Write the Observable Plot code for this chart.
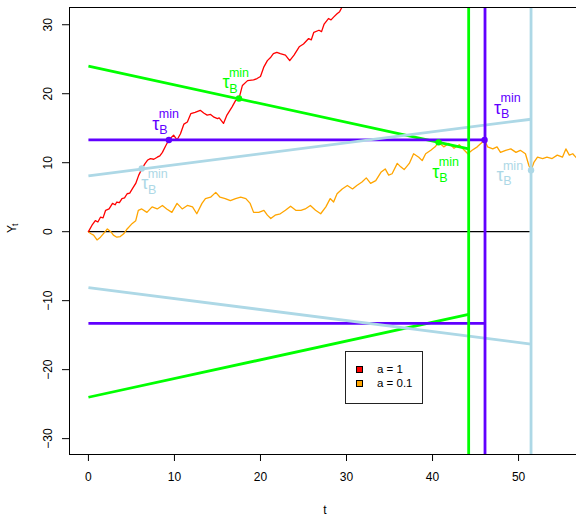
<!DOCTYPE html>
<html><head><meta charset="utf-8">
<script src="https://cdn.jsdelivr.net/npm/d3@7"></script>
<script src="https://cdn.jsdelivr.net/npm/@observablehq/plot@0.6"></script>
<style>
html,body{margin:0;padding:0;background:#fff;overflow:hidden;width:576px;height:521px;}
#wrap{position:relative;width:576px;height:521px;overflow:hidden;}
#wrap svg{max-width:none !important;width:590px !important;height:521px !important;display:block;}
#legend{position:absolute;left:345px;top:351px;width:76px;height:51px;border:1px solid #222;background:#fff;font:11.5px "Liberation Sans",Arial,sans-serif;}
#legend .sw{position:absolute;width:5px;height:5px;border:1px solid #000;}
#legend .lb{position:absolute;line-height:11px;height:11px;white-space:nowrap;color:#000;}
</style></head>
<body><div id="wrap"></div>
<script>
// ---- data ----
const redT = [0,0.4,0.8,1.1,1.4,1.7,2.0,2.4,2.8,3.1,3.3,3.6,3.9,4.2,4.5,4.8,5.1,5.5,5.85,6.2,6.6,6.9,7.2,7.6,8.0,8.3,8.6,9.0,9.35,9.9,10.3,10.7,11.1,11.5,11.9,12.4,13.0,13.4,13.8,14.2,14.6,15.0,15.2,15.7,16.1,16.7,17.1,17.5,17.9,18.5,19.2,19.6,20.0,20.4,20.8,21.2,21.5,21.9,22.3,22.9,23.4,23.9,24.5,25.0,25.6,25.9,26.2,26.8,27.1,27.4,27.9,28.2,28.5,28.9,29.2,29.5,29.9,30.4];
const redY = [0,0.9,1.6,1.4,2.1,2.0,3.1,3.3,4.1,3.9,4.3,4.2,4.8,4.9,5.5,5.6,6.2,7.0,8.2,9.1,9.9,10.4,10.6,10.5,10.8,11.0,11.5,12.5,13.3,14.0,13.3,14.2,15.6,15.9,17.1,17.3,17.6,17.2,16.9,17.0,16.6,16.4,16.5,15.7,16.9,18.1,19.0,19.3,21.2,21.9,22.0,22.2,22.5,23.9,24.8,25.3,25.8,26.0,25.8,25.6,24.8,25.6,26.8,27.2,28.0,27.8,28.9,29.2,29.0,30.1,30.9,30.7,31.1,31.6,31.9,32.6,33.4,34.2];
const orangeT = [0,0.3,0.6,1.0,1.4,1.8,2.2,2.6,2.9,3.3,3.7,4.1,4.5,5.1,5.5,5.8,6.2,6.8,7.4,8.0,8.6,9.1,9.7,10.3,10.9,11.5,12.1,12.6,13.2,13.6,14.2,14.8,15.3,15.9,16.5,17.1,17.7,18.3,18.8,19.2,19.8,20.4,20.8,21.2,21.7,22.3,22.9,23.5,24.1,24.7,25.2,25.8,26.4,27.0,27.6,28.1,28.5,28.9,29.5,30.1,30.7,31.2,31.8,32.3,32.8,33.4,34.0,34.5,34.9,35.3,35.9,36.3,36.7,37.3,37.8,38.4,38.8,39.2,39.8,40.3,40.7,41.3,41.9,42.5,43.1,43.7,44.1,44.6,45.2,45.8,46.05,46.4,47.0,47.5,47.9,48.5,49.1,49.7,50.2,50.8,51.2,51.45,51.8,52.2,52.8,53.3,53.9,54.5,55.1,55.5,55.9,56.3,56.8,57.3];
const orangeY = [0,-0.3,-0.5,-1.2,-0.8,-0.2,0.4,0,-0.5,-0.8,-0.7,-0.3,0.4,1.2,1.6,3.1,3.3,2.8,3.6,3.3,3.8,3.3,2.8,4.1,3.3,3.8,3.6,2.6,4.1,4.8,5.0,5.7,5.0,4.8,4.5,4.8,5.0,4.8,4.1,2.8,2.8,3.1,2.4,1.9,2.4,2.6,3.1,3.7,3.1,3.1,3.3,3.8,3.1,2.6,3.6,4.8,4.3,5.5,6.2,6.7,6.2,6.7,7.2,7.8,7.0,7.4,8.6,9.1,8.2,8.4,9.9,9.4,9.0,9.9,11.3,10.8,10.3,11.3,11.8,12.3,12.95,12.3,12.8,12.1,12.6,11.8,11.3,11.8,12.3,13.0,13.3,12.3,12.0,12.3,11.5,11.8,12.0,11.5,11.8,11.3,9.6,8.9,10.1,10.8,10.6,10.8,10.6,11.1,10.8,12.0,11.1,11.3,10.6,10.2];
const seriesLabels = ["a = 1", "a = 0.1"];
const boundaryNames = ["green", "purple", "lightblue"];
const boundaryStart = [24, 13.3, 8.1];
const boundaryEnd = [12.0, 13.3, 16.3];
const boundaryEndT = [44.2, 46.1, 51.45];
const hitBoundary = ["purple", "green", "lightblue", "green", "purple", "lightblue"];
const hitT = [9.35, 17.5, 6.2, 40.7, 46.05, 51.45];
const hitY = [13.3, 19.3, 9.15, 12.95, 13.3, 8.9];
const zeroLineEnd = 51.3;
const xTicks = [0, 10, 20, 30, 40, 50];
const yTicks = [-30, -20, -10, 0, 10, 20, 30];

// ---- styles ----
const seriesColors = ["#ff0000", "#ffa500"];
const bColor = {green: "#00ff00", purple: "#6100ff", lightblue: "#add8e6"};
const labelTau = [[-13,-16],[-13,-16],[3,15],[-2.7,29.4],[13,-32],[-31,5]];
const FONT = '"Liberation Sans", Arial, Helvetica, sans-serif';

const red = redT.map((t, i) => ({t, y: redY[i]}));
const orange = orangeT.map((t, i) => ({t, y: orangeY[i]}));
const bounds = boundaryNames.map((n, i) => ({n, y0: boundaryStart[i], y1: boundaryEnd[i], t1: boundaryEndT[i]}));
const hits = hitT.map((t, i) => ({t, y: hitY[i], b: hitBoundary[i]}));

const labelMarks = hits.flatMap((h, i) => {
  const [dx, dy] = labelTau[i];
  const c = bColor[h.b];
  return [
    Plot.text([h], {x: "t", y: "y", text: () => "τ", fill: c, fontSize: 18, dx, dy}),
    Plot.text([h], {x: "t", y: "y", text: () => "B", fill: c, fontSize: 12.5, dx: dx + 7.5, dy: dy + 6}),
    Plot.text([h], {x: "t", y: "y", text: () => "min", fill: c, fontSize: 12.5, dx: dx + 13, dy: dy - 9.5})
  ];
});

const chart = Plot.plot({
  width: 590, height: 521,
  marginLeft: 69, marginRight: 10, marginTop: 7, marginBottom: 67,
  x: {domain: [-2.2, 57.2]},
  y: {domain: [-32.3, 32.5]},
  style: {fontFamily: FONT, fontSize: "12px", background: "#fff", color: "#000", overflow: "visible"},
  marks: [
    Plot.link([0], {x1: () => 0, x2: () => zeroLineEnd, y1: () => 0, y2: () => 0, stroke: "#000", strokeWidth: 1.3}),
    Plot.line(orange, {x: "t", y: "y", stroke: seriesColors[1], strokeWidth: 1.3, clip: true}),
    Plot.line(red, {x: "t", y: "y", stroke: seriesColors[0], strokeWidth: 1.3, clip: true}),
    Plot.link(bounds, {x1: () => 0, x2: "t1", y1: "y0", y2: "y1", stroke: d => bColor[d.n], strokeWidth: 2.8}),
    Plot.link(bounds, {x1: () => 0, x2: "t1", y1: d => -d.y0, y2: d => -d.y1, stroke: d => bColor[d.n], strokeWidth: 2.8}),
    Plot.ruleX(bounds, {x: "t1", stroke: d => bColor[d.n], strokeWidth: 2.8}),
    Plot.dot(hits, {x: "t", y: "y", r: 3.2, fill: d => bColor[d.b], stroke: null}),
    ...labelMarks,
    Plot.frame({stroke: "#000", strokeWidth: 1}),
    Plot.axisX({ticks: xTicks, tickSize: 7, tickPadding: 11, label: null, fontSize: 12}),
    Plot.axisY({ticks: yTicks, tickSize: 7, tickPadding: 11, tickRotate: -90, label: null, fontSize: 12}),
    Plot.text(["t"], {text: d => d, frameAnchor: "bottom", dy: 59, fontSize: 12}),
    Plot.text(["Y"], {text: d => d, frameAnchor: "left", dx: -57, dy: 2, rotate: -90, fontSize: 12}),
    Plot.text(["t"], {text: d => d, frameAnchor: "left", dx: -54, dy: -5, rotate: -90, fontSize: 8.5})
  ]
});
chart.style.maxWidth = "none";
const wrap = document.getElementById("wrap");
wrap.appendChild(chart);

// legend
const lg = document.createElement("div");
lg.id = "legend";
seriesLabels.forEach((lab, i) => {
  const sw = document.createElement("div");
  sw.className = "sw";
  sw.style.left = "10px";
  sw.style.top = (14 + i * 13.5) + "px";
  sw.style.background = seriesColors[i];
  const tx = document.createElement("div");
  tx.className = "lb";
  tx.style.left = "31px";
  tx.style.top = (12 + i * 13.5) + "px";
  tx.textContent = lab;
  lg.appendChild(sw); lg.appendChild(tx);
});
wrap.appendChild(lg);
</script></body></html>
